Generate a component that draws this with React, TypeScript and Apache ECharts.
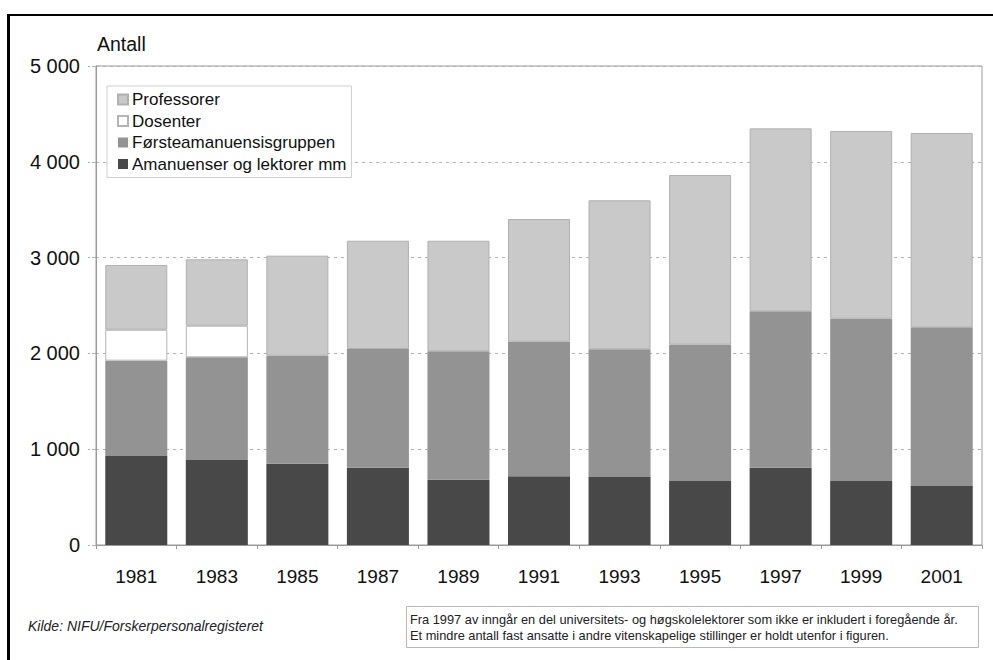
import React, { useEffect, useRef } from "react";
import * as echarts from "echarts";

const years = ["1981", "1983", "1985", "1987", "1989", "1991", "1993", "1995", "1997", "1999", "2001"];
const amanuenser = [930, 887, 849, 807, 682, 717, 710, 668, 807, 668, 616];
const forsteamanuensis = [994, 1072, 1127, 1239, 1340, 1405, 1333, 1423, 1632, 1694, 1656];
const dosenter: (number | string)[] = [323, 330, "-", "-", "-", "-", "-", "-", "-", "-", "-"];
const professorer = [676, 693, 1044, 1130, 1154, 1281, 1555, 1771, 1910, 1960, 2029];
const yTicks = [0, 1000, 2000, 3000, 4000, 5000];

const FONT = "Liberation Sans, Arial, sans-serif";

export default function App() {
  const ref = useRef<HTMLDivElement>(null);
  useEffect(() => {
    const chart = echarts.init(ref.current!, null, { renderer: "svg" });
    const fmt = (v: number) => (v >= 1000 ? `${Math.floor(v / 1000)} ${String(v % 1000).padStart(3, "0")}` : String(v));
    chart.setOption({
      animation: false,
      backgroundColor: "#fff",
      textStyle: { fontFamily: FONT },
      grid: {
        left: 96, right: 11, top: 66, bottom: 115,
        show: true, borderColor: "#9a9a9a", borderWidth: 1, backgroundColor: "transparent",
      },
      legend: {
        orient: "vertical",
        left: 107, top: 86,
        icon: "rect",
        data: ["Professorer", "Dosenter", "Førsteamanuensisgruppen", "Amanuenser og lektorer mm"],
        itemWidth: 10, itemHeight: 10, itemGap: 4.5,
        padding: [5, 5, 5, 10],
        backgroundColor: "#fff",
        borderColor: "#cfcfcf", borderWidth: 1,
        textStyle: { fontSize: 17, color: "#111", fontFamily: FONT, lineHeight: 16, padding: [0, 0, 0, -1] },
        selectedMode: false,
      },
      xAxis: {
        type: "category",
        data: years,
        axisLine: { lineStyle: { color: "#9a9a9a", width: 1 } },
        axisTick: { show: true, length: 4, lineStyle: { color: "#9a9a9a" } },
        axisLabel: { fontSize: 19, color: "#111", margin: 22, fontFamily: FONT },
      },
      yAxis: {
        type: "value",
        min: 0, max: 5000, interval: 1000,
        name: "Antall",
        nameLocation: "end",
        nameGap: 12,
        nameTextStyle: { fontSize: 19.5, color: "#111", align: "left", padding: [0, 0, 0, 1], fontFamily: FONT },
        axisLine: { show: true, lineStyle: { color: "#9a9a9a", width: 1 } },
        axisTick: { show: true, length: 8, lineStyle: { color: "#b0b0b0", type: "dashed" } },
        axisLabel: {
          fontSize: 20, color: "#111", margin: 16, fontFamily: FONT,
          formatter: (v: number) => (yTicks.includes(v) ? fmt(v) : ""),
        },
        splitLine: { show: true, lineStyle: { color: "#b4b4b4", type: [3, 4], width: 1 } },
      },
      series: [
        {
          name: "Amanuenser og lektorer mm", type: "bar", stack: "t", data: amanuenser,
          barCategoryGap: "23%",
          itemStyle: { color: "#484848", borderColor: "#484848", borderWidth: 0 },
        },
        {
          name: "Førsteamanuensisgruppen", type: "bar", stack: "t", data: forsteamanuensis,
          itemStyle: { color: "#939393", borderColor: "#939393", borderWidth: 0 },
        },
        {
          name: "Dosenter", type: "bar", stack: "t", data: dosenter,
          itemStyle: { color: "#ffffff", borderColor: "#b4b4b4", borderWidth: 1 },
        },
        {
          name: "Professorer", type: "bar", stack: "t", data: professorer,
          itemStyle: { color: "#c9c9c9", borderColor: "#b0b0b0", borderWidth: 1 },
        },
      ],
      graphic: [
        { type: "line", shape: { x1: 8.5, y1: 15, x2: 8.5, y2: 700 }, style: { stroke: "#000", lineWidth: 3 } },
        { type: "line", shape: { x1: 7, y1: 15, x2: 1000, y2: 15 }, style: { stroke: "#000", lineWidth: 2 } },
        {
          type: "text", left: 28, top: 619,
          style: { text: "Kilde: NIFU/Forskerpersonalregisteret", font: `italic 14px ${FONT}`, fill: "#222" },
        },
        {
          type: "rect", shape: { x: 406.5, y: 606.5, width: 572, height: 41 },
          style: { fill: "#fff", stroke: "#b8b8b8", lineWidth: 1 },
        },
        {
          type: "text", left: 410, top: 611,
          style: {
            text: "Fra 1997 av inngår en del universitets- og høgskolelektorer som ikke er inkludert i foregående år.\nEt mindre antall fast ansatte i andre vitenskapelige stillinger er holdt utenfor i figuren.",
            font: `12.8px ${FONT}`, fill: "#222", lineHeight: 16,
          },
        },
      ],
    });
    return () => chart.dispose();
  }, []);
  return <div ref={ref} style={{ position: "absolute", left: 0, top: 0, width: 993, height: 660 }} />;
}
